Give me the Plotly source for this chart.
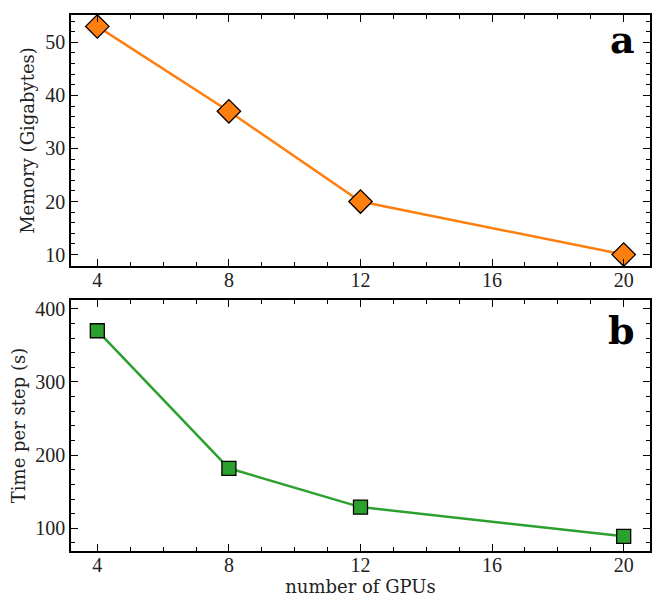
import plotly.graph_objects as go
from plotly.subplots import make_subplots

gpus = [4, 8, 12, 20]
memory_gb = [53, 37, 20, 10]
time_per_step = [370, 182, 129, 89]
x_ticks = [4, 8, 12, 16, 20]

TICKFONT = "Liberation Serif"
TITLEFONT = "DejaVu Serif"
fig = make_subplots(rows=2, cols=1, vertical_spacing=0.0634)

fig.add_trace(go.Scatter(x=gpus, y=memory_gb, mode="lines+markers",
                         line=dict(color="#ff7f0e", width=2.5),
                         marker=dict(symbol="diamond", size=18, color="#ff7f0e",
                                     line=dict(color="black", width=1.3))), row=1, col=1)
fig.add_trace(go.Scatter(x=gpus, y=time_per_step, mode="lines+markers",
                         line=dict(color="#2ca02c", width=2.5),
                         marker=dict(symbol="square", size=14, color="#2ca02c",
                                     line=dict(color="black", width=1.3))), row=2, col=1)

axcommon = dict(showline=True, linecolor="black", linewidth=1.5, mirror="ticks",
                ticks="inside", ticklen=7, tickwidth=1.2, tickcolor="black",
                showgrid=False, zeroline=False, automargin=False,
                tickfont=dict(family=TICKFONT, size=20, color="#222"))
titlefont = dict(family=TITLEFONT, size=18, color="#222")

for r in (1, 2):
    fig.update_xaxes(range=[3.2, 20.8], tickvals=x_ticks, ticklabelstandoff=-5,
                     minor=dict(ticks="inside", ticklen=4, tickwidth=1, dtick=1,
                                tick0=0, tickcolor="black"),
                     row=r, col=1, **axcommon)

fig.update_yaxes(range=[7.85, 55.15], tickvals=[10, 20, 30, 40, 50],
                 minor=dict(ticks="inside", ticklen=4, tickwidth=1, dtick=2, tick0=0,
                            tickcolor="black"),
                 title=dict(text="Memory (Gigabytes)", font=titlefont, standoff=6),
                 row=1, col=1, **axcommon)
fig.update_yaxes(range=[69, 412], tickvals=[100, 200, 300, 400],
                 minor=dict(ticks="inside", ticklen=4, tickwidth=1, dtick=20, tick0=0,
                            tickcolor="black"),
                 title=dict(text="Time per step (s)", font=titlefont, standoff=6),
                 row=2, col=1, **axcommon)
fig.update_xaxes(title=dict(text="number of GPUs", font=titlefont, standoff=2), row=2, col=1)

fig.add_annotation(text="<b>a</b>", xref="x domain", yref="y domain", x=0.978, y=1.0,
                   xanchor="right", yanchor="top", showarrow=False,
                   font=dict(family=TITLEFONT, size=38, color="black"))
fig.add_annotation(text="<b>b</b>", xref="x2 domain", yref="y2 domain", x=0.978, y=0.975,
                   xanchor="right", yanchor="top", showarrow=False,
                   font=dict(family=TITLEFONT, size=38, color="black"))

# page body has an 8px margin; compensate so the plot area lands where the reference has it
fig.update_layout(width=654, height=590, showlegend=False,
                  margin=dict(l=63, r=12, t=7, b=47),
                  plot_bgcolor="white", paper_bgcolor="white")
fig.write_html("out.html")
